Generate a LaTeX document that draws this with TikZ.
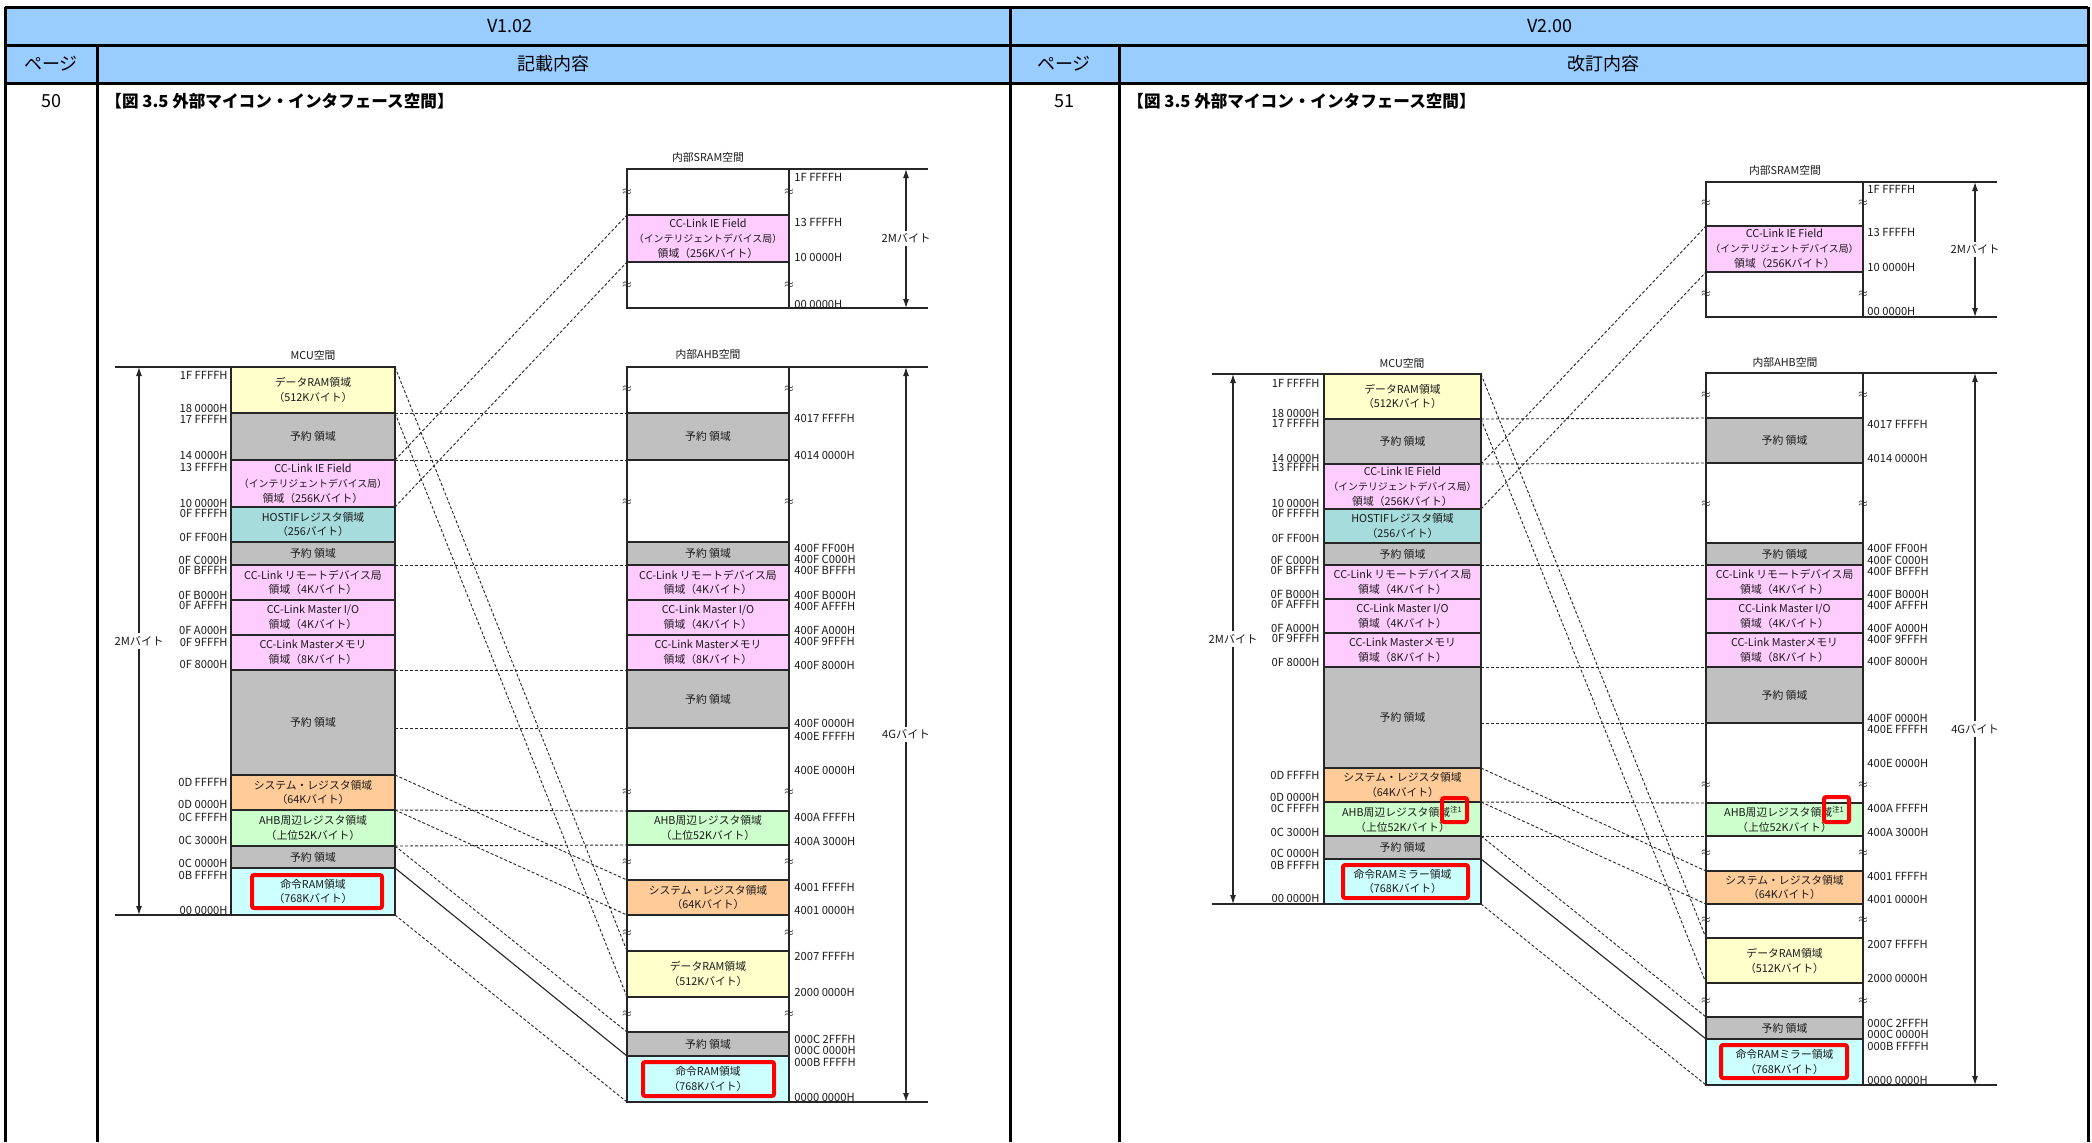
\documentclass[tikz,border=0pt]{standalone}
\usepackage{fontspec}
\setmainfont{Noto Sans CJK JP}
\usetikzlibrary{arrows.meta,calc}
\definecolor{hdr}{HTML}{99CCFF}
\definecolor{cyel}{HTML}{FFFFCC}
\definecolor{cgry}{HTML}{C0C0C0}
\definecolor{cpnk}{HTML}{FFCCFF}
\definecolor{ctea}{HTML}{A6DCDC}
\definecolor{corg}{HTML}{FFCC99}
\definecolor{cgrn}{HTML}{CCFFCC}
\definecolor{ccyn}{HTML}{CCFFFF}
\newcommand\blkfont{\fontsize{5.4}{7.4}\selectfont}
\newcommand\nrwfont{\fontsize{4.95}{7.4}\selectfont}
\newcommand\adrfont{\fontsize{5.6}{6.2}\selectfont}
\newcommand\hdrfont{\fontsize{9}{10}\selectfont}
\newcommand\titfont{\fontsize{8.3}{9}\selectfont\bfseries}
\newcommand\cciefield{CC-Link IE Field\\{\nrwfont（インテリジェントデバイス局）}\\領域（256Kバイト）}
\newcommand\memblk[7]{%
  \node[blk,fill=#6,minimum width={(#4-#2)*0.5pt},minimum height={(#5-#3)*0.5pt},anchor=north west] (#1) at (#2,#3) {#7};}
\tikzset{
 blk/.style={draw=black!85, line width=0.65pt, inner sep=0pt, outer sep=0pt, align=center, font=\blkfont, text=black!90},
 adr/.style={font=\adrfont, inner sep=0pt, text=black!90},
 conn/.style={line width=0.45pt, dash pattern=on 1.5pt off 1pt, black!85},
 solidconn/.style={line width=0.55pt, black!85},
 ext/.style={line width=0.65pt, black!85},
 dimarr/.style={line width=0.55pt, {Latex[length=4.5pt,width=3pt]}-{Latex[length=4.5pt,width=3pt]}, black!85},
 dimlbl/.style={fill=white, font=\adrfont, inner sep=1.5pt, text=black!90},
 ttl/.style={font=\blkfont, inner sep=0pt, text=black!90},
 brk/.style={font=\fontsize{5}{5}\selectfont, inner sep=0pt, text=black!85},
 redbox/.style={draw=red, line width=2pt, rounded corners=1pt},
 tbl/.style={line width=1.5pt, black},
 hdrtxt/.style={font=\hdrfont, inner sep=0pt},
}
\begin{document}
\begin{tikzpicture}[x=0.5pt,y=-0.5pt]
\useasboundingbox (0,0) rectangle (2092,1142);
\fill[white] (0,0) rectangle (2092,1142);
% ---------------- table ----------------
\fill[hdr] (5,7) rectangle (2088,83);
\draw[tbl] (5,7) -- (2088,7);
\draw[tbl] (5,45) -- (2088,45);
\draw[tbl] (5,83) -- (2088,83);
\draw[tbl] (5,7) -- (5,1142);
\draw[tbl] (1010,7) -- (1010,1142);
\draw[tbl] (2088,7) -- (2088,1142);
\draw[tbl] (97,45) -- (97,1142);
\draw[tbl] (1119,45) -- (1119,1142);
\node[hdrtxt] (hv1) at (510,26) {V1.02};
\node[hdrtxt] (hv2) at (1550,26) {V2.00};
\node[hdrtxt] (hp1) at (51,64) {ページ};
\node[hdrtxt] (hk1) at (553,64) {記載内容};
\node[hdrtxt] (hp2) at (1064,64) {ページ};
\node[hdrtxt] (hk2) at (1603,64) {改訂内容};
\node[hdrtxt] (pg1) at (51,101) {50};
\node[hdrtxt] (pg2) at (1064,101) {51};
\node[font=\titfont, inner sep=0pt, anchor=west] (ti1) at (105,101) {【図 3.5 外部マイコン・インタフェース空間】};
\node[font=\titfont, inner sep=0pt, anchor=west] (ti2) at (1127,101) {【図 3.5 外部マイコン・インタフェース空間】};

% ================= LEFT (V1.02) =================
\node[ttl] (Lmt) at (313,355) {MCU空間};
\node[ttl] (Lst) at (708,157) {内部SRAM空間};
\node[ttl] (Lat) at (708,354) {内部AHB空間};
% MCU
\memblk{Lm1}{231}{367}{395}{413}{cyel}{データRAM領域\\（512Kバイト）}
\memblk{Lm2}{231}{413}{395}{460}{cgry}{予約 領域}
\memblk{Lm3}{231}{460}{395}{507}{cpnk}{\cciefield}
\memblk{Lm4}{231}{507}{395}{542}{ctea}{HOSTIFレジスタ領域\\（256バイト）}
\memblk{Lm5}{231}{542}{395}{565}{cgry}{予約 領域}
\memblk{Lm6}{231}{565}{395}{600}{cpnk}{CC-Link リモートデバイス局\\領域（4Kバイト）}
\memblk{Lm7}{231}{600}{395}{635}{cpnk}{CC-Link Master I/O\\領域（4Kバイト）}
\memblk{Lm8}{231}{635}{395}{670}{cpnk}{CC-Link Masterメモリ\\領域（8Kバイト）}
\memblk{Lm9}{231}{670}{395}{775}{cgry}{予約 領域}
\memblk{Lm10}{231}{775}{395}{810}{corg}{システム・レジスタ領域\\（64Kバイト）}
\memblk{Lm11}{231}{810}{395}{846}{cgrn}{AHB周辺レジスタ領域\\（上位52Kバイト）}
\memblk{Lm12}{231}{846}{395}{868}{cgry}{予約 領域}
\memblk{Lm13}{231}{868}{395}{915}{ccyn}{命令RAM領域\\（768Kバイト）}
% SRAM
\memblk{Ls}{627}{169}{789}{308}{white}{}
\memblk{Ls1}{627}{215}{789}{262}{cpnk}{\cciefield}
% AHB
\memblk{La}{627}{367}{789}{1102}{white}{}
\memblk{La1}{627}{413}{789}{460}{cgry}{予約 領域}
\memblk{La2}{627}{542}{789}{565}{cgry}{予約 領域}
\memblk{La3}{627}{565}{789}{600}{cpnk}{CC-Link リモートデバイス局\\領域（4Kバイト）}
\memblk{La4}{627}{600}{789}{635}{cpnk}{CC-Link Master I/O\\領域（4Kバイト）}
\memblk{La5}{627}{635}{789}{670}{cpnk}{CC-Link Masterメモリ\\領域（8Kバイト）}
\memblk{La6}{627}{670}{789}{728}{cgry}{予約 領域}
\memblk{La7}{627}{811}{789}{845}{cgrn}{AHB周辺レジスタ領域\\（上位52Kバイト）}
\memblk{La8}{627}{880}{789}{915}{corg}{システム・レジスタ領域\\（64Kバイト）}
\memblk{La9}{627}{951}{789}{997}{cyel}{データRAM領域\\（512Kバイト）}
\memblk{La10}{627}{1032}{789}{1056}{cgry}{予約 領域}
\memblk{La11}{627}{1056}{789}{1102}{ccyn}{命令RAM領域\\（768Kバイト）}
% breaks
\foreach \yy [count=\i] in {192,285} {
  \node[brk] (Lsbl\i) at (627,\yy) {$\approx$};
  \node[brk] (Lsbr\i) at (789,\yy) {$\approx$};}
\foreach \yy [count=\i] in {389,502,792,862,933,1014} {
  \node[brk] (Labl\i) at (627,\yy) {$\approx$};
  \node[brk] (Labr\i) at (789,\yy) {$\approx$};}
% extension lines and dimension arrows
\draw[ext] (Lm1.north west) -- ++(-116,0);
\draw[ext] (Lm13.south west) -- ++(-116,0);
\draw[dimarr] ($(Lm1.north west)+(-92,0)$) -- node[dimlbl] (Lmd) {2Mバイト} ($(Lm13.south west)+(-92,0)$);
\draw[ext] (Ls.north east) -- ++(139,0);
\draw[ext] (Ls.south east) -- ++(139,0);
\draw[dimarr] ($(Ls.north east)+(117,0)$) -- node[dimlbl] (Lsd) {2Mバイト} ($(Ls.south east)+(117,0)$);
\draw[ext] (La.north east) -- ++(139,0);
\draw[ext] (La.south east) -- ++(139,0);
\draw[dimarr] ($(La.north east)+(117,0)$) -- node[dimlbl] (Lad) {4Gバイト} ($(La.south east)+(117,0)$);
% connectors
\draw[conn] (Lm1.north east) -- (La9.north west);
\draw[conn] (Lm1.south east) -- (La9.south west);
\draw[conn] (Lm2.north east) -- (La1.north west);
\draw[conn] (Lm2.south east) -- (La1.south west);
\draw[conn] (Lm3.north east) -- (Ls1.north west);
\draw[conn] (Lm3.south east) -- (Ls1.south west);
\draw[conn] (Lm6.north east) -- (La3.north west);
\draw[conn] (Lm8.south east) -- (La5.south west);
\draw[conn] (Lm9.east |- La6.south west) -- (La6.south west);
\draw[conn] (Lm10.north east) -- (La8.north west);
\draw[conn] (Lm10.south east) -- (La8.south west);
\draw[conn] (Lm11.north east) -- (La7.north west);
\draw[conn] (Lm11.south east) -- (La7.south west);
\draw[conn] (Lm12.north east) -- (La10.north west);
\draw[solidconn] (Lm12.south east) -- (La10.south west);
\draw[conn] (Lm13.south east) -- (La11.south west);
% addresses
\foreach \yy/\lab [count=\i] in {375/1F FFFFH,408/18 0000H,419/17 FFFFH,455/14 0000H,467/13 FFFFH,503/10 0000H,513/0F FFFFH,537/0F FF00H,560/0F C000H,570/0F BFFFH,595/0F B000H,605/0F AFFFH,630/0F A000H,642/0F 9FFFH,664/0F 8000H,782/0D FFFFH,804/0D 0000H,817/0C FFFFH,840/0C 3000H,863/0C 0000H,875/0B FFFFH,910/00 0000H}
  \node[adr,anchor=east] (Lma\i) at (228,\yy) {\lab};
\foreach \yy/\lab [count=\i] in {177/1F FFFFH,222/13 FFFFH,257/10 0000H,304/00 0000H}
  \node[adr,anchor=west] (Lsa\i) at (794,\yy) {\lab};
\foreach \yy/\lab [count=\i] in {418/4017 FFFFH,455/4014 0000H,548/400F FF00H,559/400F C000H,570/400F BFFFH,595/400F B000H,606/400F AFFFH,630/400F A000H,641/400F 9FFFH,665/400F 8000H,723/400F 0000H,736/400E FFFFH,770/400E 0000H,817/400A FFFFH,841/400A 3000H,887/4001 FFFFH,910/4001 0000H,956/2007 FFFFH,992/2000 0000H,1039/000C 2FFFH,1050/000C 0000H,1062/000B FFFFH,1097/0000 0000H}
  \node[adr,anchor=west] (Laa\i) at (794,\yy) {\lab};
% red boxes
\draw[redbox] (252,875) rectangle (382,908);
\draw[redbox] (643,1062) rectangle (774,1096);

% ================= RIGHT (V2.00) =================
\node[ttl] (Rmt) at (1402,363) {MCU空間};
\node[ttl] (Rst) at (1785,170) {内部SRAM空間};
\node[ttl] (Rat) at (1785,362) {内部AHB空間};
\memblk{Rm1}{1324}{374}{1481}{419}{cyel}{データRAM領域\\（512Kバイト）}
\memblk{Rm2}{1324}{419}{1481}{464}{cgry}{予約 領域}
\memblk{Rm3}{1324}{464}{1481}{509}{cpnk}{\cciefield}
\memblk{Rm4}{1324}{509}{1481}{543}{ctea}{HOSTIFレジスタ領域\\（256バイト）}
\memblk{Rm5}{1324}{543}{1481}{565}{cgry}{予約 領域}
\memblk{Rm6}{1324}{565}{1481}{599}{cpnk}{CC-Link リモートデバイス局\\領域（4Kバイト）}
\memblk{Rm7}{1324}{599}{1481}{633}{cpnk}{CC-Link Master I/O\\領域（4Kバイト）}
\memblk{Rm8}{1324}{633}{1481}{667}{cpnk}{CC-Link Masterメモリ\\領域（8Kバイト）}
\memblk{Rm9}{1324}{667}{1481}{768}{cgry}{予約 領域}
\memblk{Rm10}{1324}{768}{1481}{802}{corg}{システム・レジスタ領域\\（64Kバイト）}
\memblk{Rm11}{1324}{802}{1481}{836}{cgrn}{AHB周辺レジスタ領域\textsuperscript{注1}\\（上位52Kバイト）}
\memblk{Rm12}{1324}{836}{1481}{859}{cgry}{予約 領域}
\memblk{Rm13}{1324}{859}{1481}{904}{ccyn}{命令RAMミラー領域\\（768Kバイト）}
\memblk{Rs}{1706}{182}{1863}{317}{white}{}
\memblk{Rs1}{1706}{226}{1863}{272}{cpnk}{\cciefield}
\memblk{Ra}{1706}{373}{1863}{1085}{white}{}
\memblk{Ra1}{1706}{418}{1863}{463}{cgry}{予約 領域}
\memblk{Ra2}{1706}{543}{1863}{565}{cgry}{予約 領域}
\memblk{Ra3}{1706}{565}{1863}{599}{cpnk}{CC-Link リモートデバイス局\\領域（4Kバイト）}
\memblk{Ra4}{1706}{599}{1863}{633}{cpnk}{CC-Link Master I/O\\領域（4Kバイト）}
\memblk{Ra5}{1706}{633}{1863}{667}{cpnk}{CC-Link Masterメモリ\\領域（8Kバイト）}
\memblk{Ra6}{1706}{667}{1863}{723}{cgry}{予約 領域}
\memblk{Ra7}{1706}{803}{1863}{836}{cgrn}{AHB周辺レジスタ領域\textsuperscript{注1}\\（上位52Kバイト）}
\memblk{Ra8}{1706}{871}{1863}{904}{corg}{システム・レジスタ領域\\（64Kバイト）}
\memblk{Ra9}{1706}{938}{1863}{983}{cyel}{データRAM領域\\（512Kバイト）}
\memblk{Ra10}{1706}{1017}{1863}{1039}{cgry}{予約 領域}
\memblk{Ra11}{1706}{1039}{1863}{1085}{ccyn}{命令RAMミラー領域\\（768Kバイト）}
\foreach \yy [count=\i] in {203,294} {
  \node[brk] (Rsbl\i) at (1706,\yy) {$\approx$};
  \node[brk] (Rsbr\i) at (1863,\yy) {$\approx$};}
\foreach \yy [count=\i] in {395,504,785,853,920,1001} {
  \node[brk] (Rabl\i) at (1706,\yy) {$\approx$};
  \node[brk] (Rabr\i) at (1863,\yy) {$\approx$};}
\draw[ext] (Rm1.north west) -- ++(-112,0);
\draw[ext] (Rm13.south west) -- ++(-112,0);
\draw[dimarr] ($(Rm1.north west)+(-91,0)$) -- node[dimlbl] (Rmd) {2Mバイト} ($(Rm13.south west)+(-91,0)$);
\draw[ext] (Rs.north east) -- ++(134,0);
\draw[ext] (Rs.south east) -- ++(134,0);
\draw[dimarr] ($(Rs.north east)+(112,0)$) -- node[dimlbl] (Rsd) {2Mバイト} ($(Rs.south east)+(112,0)$);
\draw[ext] (Ra.north east) -- ++(134,0);
\draw[ext] (Ra.south east) -- ++(134,0);
\draw[dimarr] ($(Ra.north east)+(112,0)$) -- node[dimlbl] (Rad) {4Gバイト} ($(Ra.south east)+(112,0)$);
\draw[conn] (Rm1.north east) -- (Ra9.north west);
\draw[conn] (Rm1.south east) -- (Ra9.south west);
\draw[conn] (Rm2.north east) -- (Ra1.north west);
\draw[conn] (Rm2.south east) -- (Ra1.south west);
\draw[conn] (Rm3.north east) -- (Rs1.north west);
\draw[conn] (Rm3.south east) -- (Rs1.south west);
\draw[conn] (Rm6.north east) -- (Ra3.north west);
\draw[conn] (Rm8.south east) -- (Ra5.south west);
\draw[conn] (Rm9.east |- Ra6.south west) -- (Ra6.south west);
\draw[conn] (Rm10.north east) -- (Ra8.north west);
\draw[conn] (Rm10.south east) -- (Ra8.south west);
\draw[conn] (Rm11.north east) -- (Ra7.north west);
\draw[conn] (Rm11.south east) -- (Ra7.south west);
\draw[conn] (Rm12.north east) -- (Ra10.north west);
\draw[solidconn] (Rm12.south east) -- (Ra10.south west);
\draw[conn] (Rm13.south east) -- (Ra11.south west);
\foreach \yy/\lab [count=\i] in {383/1F FFFFH,413/18 0000H,423/17 FFFFH,458/14 0000H,467/13 FFFFH,503/10 0000H,513/0F FFFFH,538/0F FF00H,560/0F C000H,570/0F BFFFH,594/0F B000H,604/0F AFFFH,628/0F A000H,638/0F 9FFFH,662/0F 8000H,775/0D FFFFH,797/0D 0000H,808/0C FFFFH,832/0C 3000H,853/0C 0000H,865/0B FFFFH,898/00 0000H}
  \node[adr,anchor=east] (Rma\i) at (1320,\yy) {\lab};
\foreach \yy/\lab [count=\i] in {189/1F FFFFH,232/13 FFFFH,267/10 0000H,311/00 0000H}
  \node[adr,anchor=west] (Rsa\i) at (1867,\yy) {\lab};
\foreach \yy/\lab [count=\i] in {424/4017 FFFFH,458/4014 0000H,548/400F FF00H,560/400F C000H,571/400F BFFFH,594/400F B000H,605/400F AFFFH,628/400F A000H,639/400F 9FFFH,661/400F 8000H,718/400F 0000H,729/400E FFFFH,763/400E 0000H,808/400A FFFFH,832/400A 3000H,876/4001 FFFFH,899/4001 0000H,944/2007 FFFFH,978/2000 0000H,1023/000C 2FFFH,1034/000C 0000H,1046/000B FFFFH,1080/0000 0000H}
  \node[adr,anchor=west] (Raa\i) at (1867,\yy) {\lab};
\draw[redbox] (1343,865) rectangle (1468,898);
\draw[redbox] (1442,798) rectangle (1467,822);
\draw[redbox] (1721,1045) rectangle (1847,1078);
\draw[redbox] (1824,797) rectangle (1849,822);
\end{tikzpicture}
\end{document}
